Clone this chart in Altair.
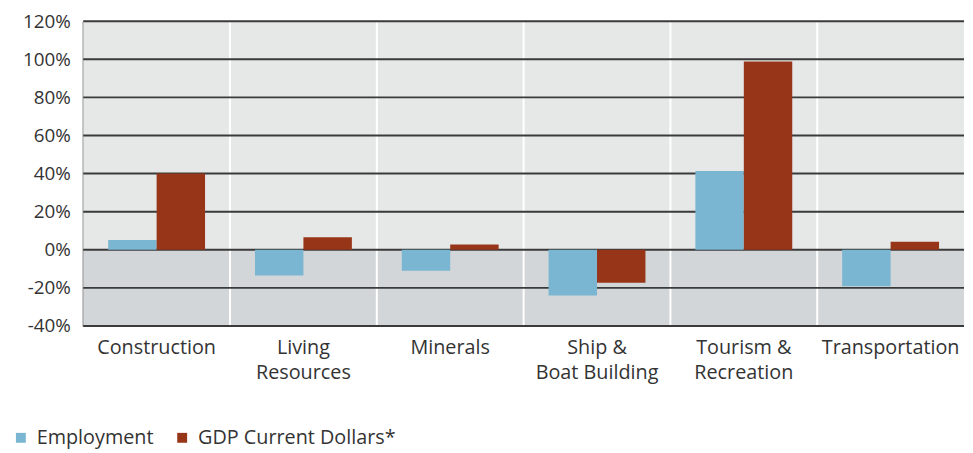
import altair as alt
import pandas as pd

categories = ["Construction", "Living\nResources", "Minerals", "Ship &\nBoat Building",
              "Tourism &\nRecreation", "Transportation"]
series = ["Employment", "GDP Current Dollars*"]
employment = [5.2, -13.5, -11.0, -24.0, 41.3, -19.2]
gdp = [40.0, 6.6, 2.8, -17.3, 98.8, 4.2]
y_ticks = [-40, -20, 0, 20, 40, 60, 80, 100, 120]

colors = ["#7ab6d2", "#973518"]
FONT = "Open Sans"
TEXT = "#333333"
FS = 20

rows = []
for c, e, g in zip(categories, employment, gdp):
    rows.append({"cat": c, "series": series[0], "value": e})
    rows.append({"cat": c, "series": series[1], "value": g})
bars_df = pd.DataFrame(rows)

bg_df = pd.DataFrame({"y0": [0, -40], "y1": [120, 0], "fill": ["#e6e8e8", "#d3d6d8"]})
grid_df = pd.DataFrame({"v": y_ticks})
sep_df = pd.DataFrame({"cat": categories[1:]})

yscale = alt.Scale(domain=[-40, 120], nice=False)
yaxis = alt.Axis(values=y_ticks, labelExpr="datum.value + '%'", title=None,
                 labelOverlap=False)

bg = alt.Chart(bg_df).mark_rect().encode(
    x=alt.value(0), x2=alt.value("width"),
    y=alt.Y("y0:Q", scale=yscale, axis=yaxis),
    y2="y1:Q",
    fill=alt.Fill("fill:N", scale=None),
)

sep = alt.Chart(sep_df).mark_rule(color="white", strokeWidth=2).encode(
    x=alt.X("cat:N", sort=categories, bandPosition=0,
            scale=alt.Scale(domain=categories, paddingInner=0, paddingOuter=0), axis=None),
    y=alt.value(0), y2=alt.value("height"),
)

grid = alt.Chart(grid_df).mark_rule(color="#3a3a3a", strokeWidth=2).encode(
    x=alt.value(0), x2=alt.value("width"),
    y=alt.Y("v:Q", scale=yscale, axis=yaxis),
)

bars = alt.Chart(bars_df).mark_bar().encode(
    x=alt.X("cat:N", sort=categories,
            scale=alt.Scale(domain=categories, paddingInner=0.34, paddingOuter=0.17),
            axis=alt.Axis(title=None, labelAngle=0, labelExpr="split(datum.label, '\\n')",
                          ticks=False, domain=False, labelPadding=12, labelLineHeight=25,
                          labelFontSize=FS, labelFont=FONT, labelColor=TEXT)),
    xOffset=alt.XOffset("series:N", sort=series,
                        scale=alt.Scale(paddingInner=0, paddingOuter=0)),
    y=alt.Y("value:Q", scale=yscale, axis=yaxis),
    color=alt.Color("series:N", sort=series,
                    scale=alt.Scale(domain=series, range=colors),
                    legend=alt.Legend(title=None, orient="none", direction="horizontal",
                                      legendX=-73, legendY=411, symbolType="square",
                                      symbolSize=100, symbolStrokeWidth=0, labelLimit=0,
                                      labelFontSize=FS, labelFont=FONT, labelColor=TEXT,
                                      columnPadding=18, symbolOffset=0, labelOffset=6)),
)

chart = alt.layer(bg, sep, grid, bars).resolve_scale(x="independent").properties(
    width=890, height=308, padding={"left": 3, "top": 2, "right": 0, "bottom": 0},
).configure_view(stroke=None).configure_axisY(
    domain=True, domainColor="#3a3a3a", domainWidth=2, ticks=False, tickSize=0,
    grid=False, labelPadding=13, labelFontSize=19, labelFont=FONT, labelColor=TEXT,
    labelOverlap=False, zindex=1,
).configure_axisX(grid=False)

chart.save("out.html", embed_options={"renderer": "svg", "actions": False})
